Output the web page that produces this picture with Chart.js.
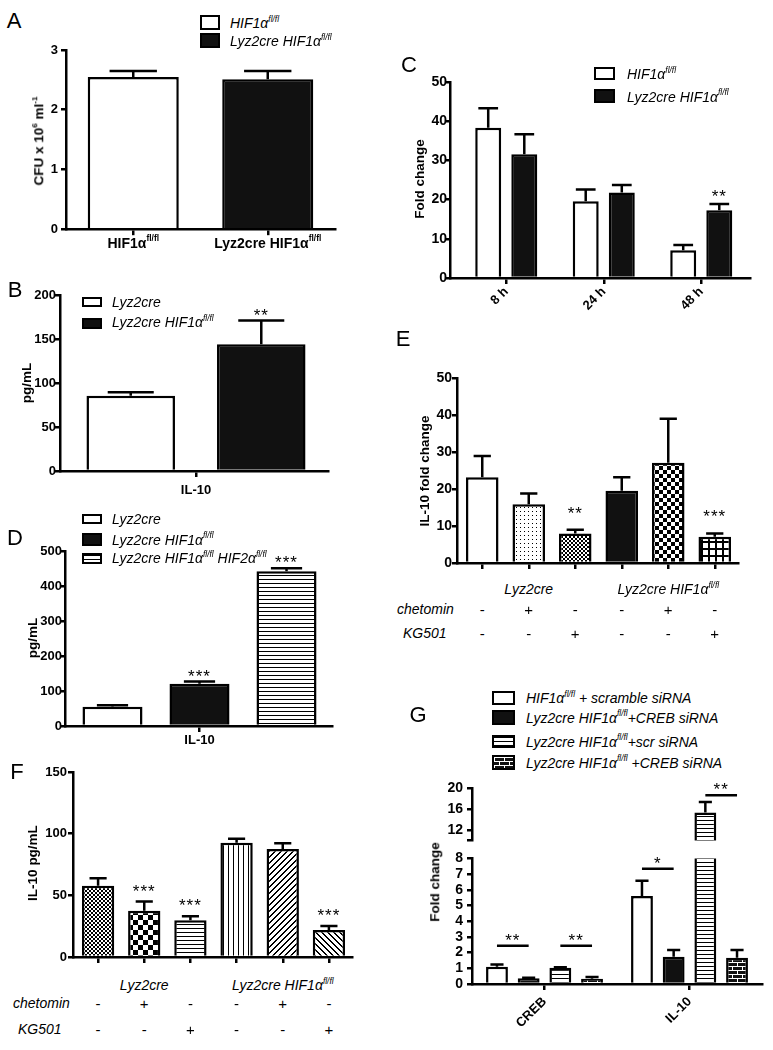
<!DOCTYPE html>
<html>
<head>
<meta charset="utf-8">
<script src="https://cdn.jsdelivr.net/npm/chart.js@4.4.1/dist/chart.umd.min.js"></script>
<style>
  body { margin: 0; background: #fff; width: 773px; height: 1050px; overflow: hidden; position: relative;
         font-family: "Liberation Sans", Arial, sans-serif; color: #000; }
  canvas { position: absolute; }
  .t { position: absolute; white-space: nowrap; line-height: 1; }
  .lg { font-style: italic; font-size: 14px; }
  .xl { font-weight: bold; font-size: 14px; }
  .yt { font-weight: bold; font-size: 13.5px; }
  .pl { font-size: 22px; }
  .star { font-size: 17px; letter-spacing: 1px; }
  .sign { font-size: 15px; }
  sup { font-size: 0.6em; vertical-align: baseline; position: relative; top: -0.75em; }
  .sw { position: absolute; box-sizing: border-box; border: 2.5px solid #000; }
</style>
</head>
<body>
<script>
// ---- data ----
// A: bacterial load
const aCategories = ['HIF1α fl/fl', 'Lyz2cre HIF1α fl/fl'];
const aMean = [2.55, 2.51];
const aSem = [0.10, 0.14];
const aYTicks = [0, 1, 2, 3];

// B: IL-10 pg/mL
const bCategories = ['IL-10'];
const bSeries = ['Lyz2cre', 'Lyz2cre HIF1α fl/fl'];
const bMean = [85.5, 144];
const bSem = [4, 27];
const bStars = ['', '**'];
const bYTicks = [0, 50, 100, 150, 200];

// C: fold change over time
const cCategories = ['8 h', '24 h', '48 h'];
const cSeries = ['HIF1α fl/fl', 'Lyz2cre HIF1α fl/fl'];
const cFlox = [38.3, 19.6, 7.1];
const cFloxSem = [5.0, 3.0, 1.3];
const cKo = [31.6, 21.8, 17.3];
const cKoSem = [5.1, 1.9, 1.6];
const cKoStars = ['', '', '**'];
const cYTicks = [0, 10, 20, 30, 40, 50];

// D: IL-10 pg/mL, three genotypes
const dCategories = ['IL-10'];
const dSeries = ['Lyz2cre', 'Lyz2cre HIF1α fl/fl', 'Lyz2cre HIF1α fl/fl HIF2α fl/fl'];
const dMean = [55, 121, 442];
const dSem = [4, 6, 9];
const dStars = ['', '***', '***'];
const dYTicks = [0, 100, 200, 300, 400, 500];

// E / F: inhibitors
const treatGroups = ['Lyz2cre', 'Lyz2cre HIF1α fl/fl'];
const chetomin = ['-', '+', '-', '-', '+', '-'];
const kg501 = ['-', '-', '+', '-', '-', '+'];
const eMean = [23.2, 15.9, 8.0, 19.5, 27.1, 7.1];
const eSem = [5.7, 2.9, 1.0, 3.7, 11.9, 0.9];
const eStars = ['', '', '**', '', '', '***'];
const eYTicks = [0, 10, 20, 30, 40, 50];
const fMean = [57.8, 37.6, 29.7, 92.7, 87.6, 21.9];
const fSem = [6.0, 7.3, 3.3, 3.2, 4.6, 3.2];
const fStars = ['', '***', '***', '', '', '***'];
const fYTicks = [0, 50, 100, 150];

// G: siRNA, broken y axis
const gCategories = ['CREB', 'IL-10'];
const gSeries = ['HIF1α fl/fl + scramble siRNA', 'Lyz2cre HIF1α fl/fl+CREB siRNA',
                 'Lyz2cre HIF1α fl/fl+scr siRNA', 'Lyz2cre HIF1α fl/fl +CREB siRNA'];
const gScramble = [1.10, 5.61];
const gScrambleSem = [0.14, 0.97];
const gCrebKd = [0.36, 1.74];
const gCrebKdSem = [0.04, 0.42];
const gKoScr = [1.04, 15.4];
const gKoScrSem = [0.02, 2.0];
const gKoCreb = [0.34, 1.67];
const gKoCrebSem = [0.10, 0.49];
const gUpperTicks = [12, 16, 20];
const gBreakAt = 10;
const gLowerTicks = [0, 1, 2, 3, 4, 5, 6, 7, 8];
const gSig = [
  { cat: 0, from: 0, to: 1, at: 2.43, text: '**' },
  { cat: 0, from: 2, to: 3, at: 2.43, text: '**' },
  { cat: 1, from: 0, to: 1, at: 7.34, text: '*' },
  { cat: 1, from: 2, to: 3, at: 18.7, text: '**' }
];

// ---- setup ----
Chart.defaults.font.family = '"Liberation Sans", Arial, sans-serif';
Chart.defaults.color = '#000';
Chart.defaults.animation = false;
Chart.defaults.responsive = false;
Chart.defaults.events = [];
Chart.defaults.plugins.legend.display = false;
Chart.defaults.plugins.tooltip.enabled = false;

// category scale that leaves a gap between the y axis and the first category
class PadCategoryScale extends Chart.CategoryScale {
  configure() {
    super.configure();
    const pad = this.options.padStart || 0;
    this._startPixel += pad;
    this._length -= pad;
  }
}
PadCategoryScale.id = 'padcategory';
PadCategoryScale.defaults = Chart.CategoryScale.defaults;
Chart.register(PadCategoryScale);

function tile(w, h, bg, fg, on) {
  const c = document.createElement('canvas');
  c.width = w; c.height = h;
  const g = c.getContext('2d');
  g.fillStyle = bg; g.fillRect(0, 0, w, h);
  g.fillStyle = fg;
  for (let y = 0; y < h; y++)
    for (let x = 0; x < w; x++)
      if (on(x, y)) g.fillRect(x, y, 1, 1);
  return c;
}
const tiles = {
  hlines: tile(4, 4, '#fff', '#000', (x, y) => y === 0),
  vlines: tile(5, 5, '#fff', '#000', (x) => x === 0),
  diagUp: tile(6, 6, '#fff', '#000', (x, y) => (x + y) % 6 < 2),
  diagDown: tile(6, 6, '#fff', '#000', (x, y) => (x - y + 6) % 6 < 2),
  fineCheck: tile(4, 4, '#fff', '#000', (x, y) => ((x >> 1) + (y >> 1)) % 2 === 0),
  check4: tile(8, 8, '#fff', '#000', (x, y) => ((x >> 2) + (y >> 2)) % 2 === 0),
  check5: tile(10, 10, '#fff', '#000', (x, y) => (Math.floor(x / 5) + Math.floor(y / 5)) % 2 === 0),
  dots: tile(4, 4, '#fff', '#000', (x, y) => x === 1 && y === 1),
  grid: tile(7, 7, '#fff', '#000', (x, y) => x < 2 || y < 2),
  brick: tile(10, 8, '#111', '#fff', (x, y) => y === 0 || y === 4 || (y < 4 ? x === 0 : x === 5))
};
const patCtx = document.createElement('canvas').getContext('2d');
const P = name => patCtx.createPattern(tiles[name], 'repeat');
const WHITE = '#fff', BLACK = '#111';

const sup = s => s.replace(/ fl\/fl/g, '<sup>fl/fl</sup>');

function text(html, x, y, cls, align) {
  const d = document.createElement('div');
  d.className = 't ' + (cls || '');
  d.innerHTML = html;
  d.style.left = x + 'px';
  d.style.top = y + 'px';
  d.style.transform = align === 'l' ? 'translate(0,-50%)'
    : align === 'r' ? 'translate(-50%,-50%) rotate(-90deg)' : 'translate(-50%,-50%)';
  document.body.appendChild(d);
  return d;
}

function swatch(x, y, w, h, fill) {
  const s = document.createElement('div');
  s.className = 'sw';
  s.style.left = x + 'px'; s.style.top = y + 'px';
  s.style.width = w + 'px'; s.style.height = h + 'px';
  s.style.background = tiles[fill] ? 'url(' + tiles[fill].toDataURL() + ')' : fill;
  document.body.appendChild(s);
}

function errorBars(cap) {
  return {
    id: 'errorBars',
    afterDatasetsDraw(chart) {
      const { ctx, chartArea: a, scales: { y } } = chart;
      ctx.save();
      ctx.beginPath();
      ctx.rect(a.left - 10, a.top - 2, a.right - a.left + 20, a.bottom - a.top + 2);
      ctx.clip();
      ctx.strokeStyle = '#000';
      ctx.lineWidth = 2.5;
      chart.data.datasets.forEach((ds, i) => {
        chart.getDatasetMeta(i).data.forEach((bar, j) => {
          const top = y.getPixelForValue(ds.data[j] + ds.sem[j]);
          const half = bar.width * cap / 2;
          ctx.beginPath();
          ctx.moveTo(bar.x, bar.y); ctx.lineTo(bar.x, top);
          ctx.moveTo(bar.x - half, top); ctx.lineTo(bar.x + half, top);
          ctx.stroke();
        });
      });
      ctx.restore();
    }
  };
}

// significance brackets for panel G, drawn on whichever half holds the value
const sigLines = {
  id: 'sigLines',
  afterDatasetsDraw(chart) {
    const { ctx, chartArea: a, scales: { y } } = chart;
    ctx.save();
    ctx.strokeStyle = '#000';
    ctx.lineWidth = 2.5;
    gSig.forEach(s => {
      const py = y.getPixelForValue(s.at);
      if (py < a.top - 12 || py > a.bottom) return;
      const x1 = chart.getDatasetMeta(s.from).data[s.cat].x;
      const x2 = chart.getDatasetMeta(s.to).data[s.cat].x;
      ctx.beginPath(); ctx.moveTo(x1, py); ctx.lineTo(x2, py); ctx.stroke();
    });
    ctx.restore();
  }
};

function bar(values, sem, fill, pct) {
  return {
    data: values, sem: sem,
    backgroundColor: fill, borderColor: '#000', borderWidth: 2.5,
    categoryPercentage: pct[0], barPercentage: pct[1], clip: 0
  };
}

// size = tick label font size, gap = distance from axis line to label's right edge
function yAxis(ticks, size, gap, callback) {
  const t = { font: { size: size, weight: 'bold' }, padding: gap - 5, autoSkip: false };
  if (callback) t.callback = callback;
  return {
    min: ticks[0], max: ticks[ticks.length - 1],
    afterBuildTicks: s => { s.ticks = ticks.map(v => ({ value: v })); },
    ticks: t,
    grid: { drawOnChartArea: false, color: '#000', lineWidth: 2.5, tickLength: 5 },
    border: { color: '#000', width: 2.5 }
  };
}

function xAxis(pad, tickOpts) {
  return {
    type: 'padcategory', padStart: pad,
    ticks: Object.assign({ display: false, autoSkip: false }, tickOpts || {}),
    grid: { drawOnChartArea: false, offset: false, color: '#000', lineWidth: 2.5, tickLength: 6 },
    border: { color: '#000', width: 2.5 }
  };
}

function panel(box, data, scales, cap, extraPlugins) {
  const yW = 50, pt = box.padTop ?? 12, pr = 6, pb = box.padBottom ?? 0, xH = box.xH ?? 0;
  const cv = document.createElement('canvas');
  cv.width = yW + (box.R - box.L) + pr;
  cv.height = pt + (box.B - box.T) + xH + pb;
  cv.style.left = (box.L - yW) + 'px';
  cv.style.top = (box.T - pt) + 'px';
  document.body.appendChild(cv);
  scales.y.afterFit = s => { s.width = yW; };
  if (scales.x.display !== false) scales.x.afterFit = s => { s.height = xH; };
  const chart = new Chart(cv, {
    type: 'bar',
    data: data,
    options: { layout: { padding: { top: pt, right: pr, bottom: pb, left: 0 } }, scales: scales },
    plugins: [errorBars(cap)].concat(extraPlugins || [])
  });
  chart.$ox = box.L - yW;
  chart.$oy = box.T - pt;
  return chart;
}

function starAt(chart, ds, j, s, gap) {
  if (!s) return;
  const d = chart.data.datasets[ds];
  const b = chart.getDatasetMeta(ds).data[j];
  const yTop = chart.scales.y.getPixelForValue(d.data[j] + d.sem[j]);
  text(s, chart.$ox + b.x, chart.$oy + yTop - gap + 4, 'star');
}

// ---- A ----
const aChart = panel({ L: 66, R: 335, T: 50, B: 230, xH: 10 }, {
  labels: aCategories,
  datasets: [bar(aMean, aSem, [WHITE, BLACK], [1, 0.677])]
}, { x: xAxis(0), y: yAxis(aYTicks, 13, 8) }, 0.52);
aCategories.forEach((c, i) => text(sup(c), aChart.$ox + aChart.scales.x.getPixelForValue(i), 242.5, 'xl'));
text('A', 14, 21, 'pl');
text('CFU x 10<sup>6</sup> ml<sup>-1</sup>', 39, 141, 'yt', 'r');
swatch(200, 15, 20, 15, WHITE); text(sup(cSeries[0]), 230, 23, 'lg', 'l');
swatch(200, 33, 20, 15, BLACK); text(sup(cSeries[1]), 230, 41, 'lg', 'l');

// ---- B ----
const bChart = panel({ L: 60, R: 328, T: 295, B: 471, xH: 30 }, {
  labels: bCategories,
  datasets: [
    bar([bMean[0]], [bSem[0]], WHITE, [0.989, 0.678]),
    bar([bMean[1]], [bSem[1]], BLACK, [0.989, 0.678])
  ]
}, { x: xAxis(4, { display: true, font: { size: 13, weight: 'bold' }, padding: 6 }), y: yAxis(bYTicks, 13, 4) }, 0.52);
bStars.forEach((s, i) => starAt(bChart, i, 0, s, 10));
text('B', 15, 289.5, 'pl');
text('pg/mL', 27, 383, 'yt', 'r');
swatch(82, 297, 20, 10, WHITE); text(sup(bSeries[0]), 112, 302, 'lg', 'l');
swatch(82, 318, 20, 11, BLACK); text(sup(bSeries[1]), 112, 322, 'lg', 'l');

// ---- C ----
const cChart = panel({ L: 450, R: 750, T: 82, B: 278, xH: 45 }, {
  labels: cCategories,
  datasets: [
    bar(cFlox, cFloxSem, WHITE, [0.74, 0.72]),
    bar(cKo, cKoSem, BLACK, [0.74, 0.72])
  ]
}, { x: xAxis(7.5, { display: true, minRotation: 45, maxRotation: 45, font: { size: 13, weight: 'bold' }, padding: 0 }),
     y: yAxis(cYTicks, 14, 3) }, 0.76);
cKoStars.forEach((s, j) => starAt(cChart, 1, j, s, 12));
text('C', 409, 65, 'pl');
text('Fold change', 420, 179, 'yt', 'r');
swatch(594, 67, 21, 13, WHITE); text(sup(cSeries[0]), 627, 74, 'lg', 'l');
swatch(594, 89, 21, 14, BLACK); text(sup(cSeries[1]), 627, 96.5, 'lg', 'l');

// ---- D ----
const dFills = [WHITE, BLACK, P('hlines')];
const dChart = panel({ L: 65, R: 332, T: 551, B: 726, xH: 24 }, {
  labels: dCategories,
  datasets: dMean.map((v, i) => bar([v], [dSem[i]], dFills[i], [0.985, 0.69]))
}, { x: xAxis(2, { display: true, font: { size: 13, weight: 'bold' }, padding: 1 }), y: yAxis(dYTicks, 13, 3) }, 0.52);
dStars.forEach((s, i) => starAt(dChart, i, 0, s, 10));
text('D', 15, 537.5, 'pl');
text('pg/mL', 33, 638, 'yt', 'r');
swatch(82, 514, 20, 10, WHITE); text(sup(dSeries[0]), 112, 518.5, 'lg', 'l');
swatch(82, 533, 20, 13, BLACK); text(sup(dSeries[1]), 112, 539.5, 'lg', 'l');
swatch(82, 553, 20, 11, 'hlines'); text(sup(dSeries[2]), 112, 558, 'lg', 'l');

// ---- E / F treatment tables ----
function treatments(chart, groupY, chetY, kgY, chetX, kgX) {
  const px = i => chart.$ox + chart.scales.x.getPixelForValue(i);
  text(sup(treatGroups[0]), px(1), groupY, 'lg');
  text(sup(treatGroups[1]), px(4), groupY, 'lg');
  text('chetomin', chetX, chetY, 'lg', 'l');
  text('KG501', kgX, kgY, 'lg', 'l');
  chetomin.forEach((s, i) => text(s, px(i), chetY, 'sign'));
  kg501.forEach((s, i) => text(s, px(i), kgY, 'sign'));
}

// ---- E ----
const eFills = [WHITE, P('dots'), P('fineCheck'), BLACK, P('check4'), P('grid')];
const eChart = panel({ L: 457, R: 738, T: 378, B: 563, xH: 10 }, {
  labels: chetomin.map((c, i) => i),
  datasets: [bar(eMean, eSem, eFills, [1, 0.70])]
}, { x: xAxis(2), y: yAxis(eYTicks, 14, 5) }, 0.53);
eStars.forEach((s, j) => starAt(eChart, 0, j, s, 21));
treatments(eChart, 589, 609, 633, 397, 403);
text('E', 403, 339, 'pl');
text('IL-10 fold change', 425, 471, 'yt', 'r');

// ---- F ----
const fFills = [P('fineCheck'), P('check5'), P('hlines'), P('vlines'), P('diagUp'), P('diagDown')];
const fChart = panel({ L: 73, R: 352, T: 772, B: 957, xH: 10 }, {
  labels: chetomin.map((c, i) => i),
  datasets: [bar(fMean, fSem, fFills, [1, 0.70])]
}, { x: xAxis(2), y: yAxis(fYTicks, 13, 6) }, 0.53);
fStars.forEach((s, j) => starAt(fChart, 0, j, s, 15));
treatments(fChart, 985, 1003, 1029, 13, 18);
text('F', 17, 772, 'pl');
text('IL-10 pg/mL', 33, 863, 'yt', 'r');

// ---- G (two halves of a broken axis) ----
function gData() {
  const pct = [0.874, 0.69];
  return {
    labels: gCategories,
    datasets: [
      bar(gScramble, gScrambleSem, WHITE, pct),
      bar(gCrebKd, gCrebKdSem, BLACK, pct),
      bar(gKoScr, gKoScrSem, P('hlines'), pct),
      bar(gKoCreb, gKoCrebSem, P('brick'), pct)
    ]
  };
}
const gUpper = panel({ L: 472, R: 762, T: 788, B: 843, padBottom: 10 }, gData(), {
  x: Object.assign(xAxis(0), { display: false }),
  y: yAxis([gBreakAt].concat(gUpperTicks), 14, 9, v => gUpperTicks.includes(v) ? v : '')
}, 0.6, [sigLines]);
const gLower = panel({ L: 472, R: 762, T: 858, B: 984, xH: 60 }, gData(), {
  x: xAxis(0, { display: true, minRotation: 45, maxRotation: 45, font: { size: 13, weight: 'bold' }, padding: 4 }),
  y: yAxis(gLowerTicks, 14, 9)
}, 0.6, [sigLines]);
gSig.forEach(s => {
  const ch = s.at > gBreakAt ? gUpper : gLower;
  const x1 = ch.getDatasetMeta(s.from).data[s.cat].x;
  const x2 = ch.getDatasetMeta(s.to).data[s.cat].x;
  text(s.text, ch.$ox + (x1 + x2) / 2, ch.$oy + ch.scales.y.getPixelForValue(s.at) - 10 + 4, 'star');
});
text('G', 418, 715, 'pl');
text('Fold change', 435, 882, 'yt', 'r');
const gFills = [WHITE, BLACK, 'hlines', 'brick'];
const gRows = [[691, 14, 698], [710, 15, 717.5], [735, 13, 741.5], [755, 15, 762.5]];
gSeries.forEach((s, i) => {
  swatch(492, gRows[i][0], 23, gRows[i][1], gFills[i]);
  text(sup(s), 526, gRows[i][2], 'lg', 'l');
});
</script>
</body>
</html>
